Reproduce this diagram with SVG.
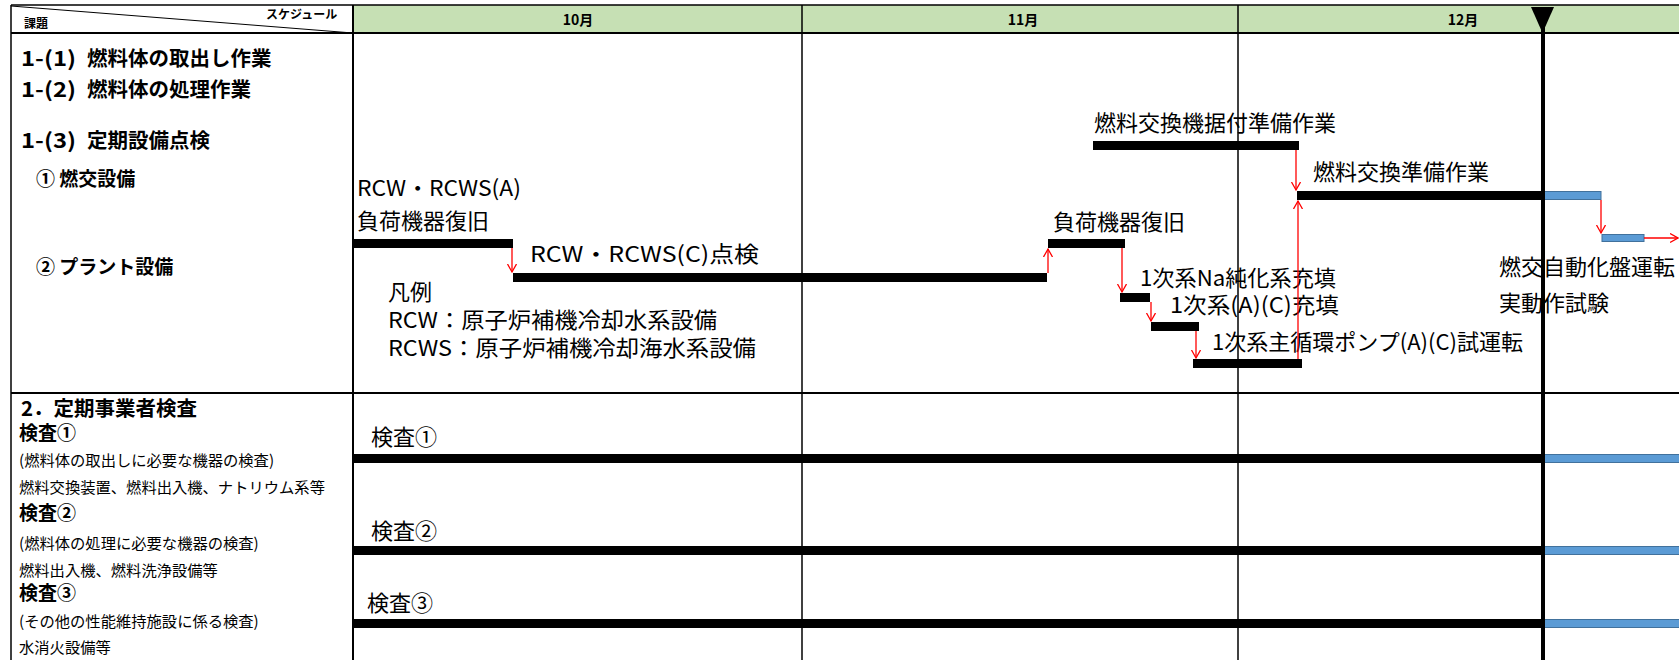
<svg xmlns="http://www.w3.org/2000/svg" width="1679" height="660" viewBox="0 0 1679 660">
<style>
text{font-family:"Noto Sans CJK JP","Noto Sans",sans-serif;fill:#000}
.hb{font-weight:bold;font-size:20.5px}
.sb{font-weight:bold;font-size:19px}
.sm{font-size:15.3px}
.tiny{font-weight:bold;font-size:12px}
.mon{font-weight:bold;font-size:14px}
.lb{font-size:22px}
.bar{fill:#000}
.blue{fill:#5B9BD5;stroke:#41719C;stroke-width:1}
.grid{stroke:#000;stroke-width:1.5;fill:none}
.arr{stroke:#FF0000;stroke-width:1.3;fill:none;marker-end:url(#ah)}
</style>
<defs>
<marker id="ah" markerUnits="userSpaceOnUse" markerWidth="12" markerHeight="12" refX="8" refY="5" orient="auto">
<path d="M0,0.5 L8,5 L0,9.5" fill="none" stroke="#FF0000" stroke-width="1.3"/>
</marker>
</defs>
<rect x="0" y="0" width="1679" height="660" fill="#fff"/>
<g id="frame">
<rect x="353" y="5" width="1326" height="28" fill="#C6E0B4"/>
<line class="grid" x1="11" y1="5" x2="1679" y2="5"/>
<line x1="11" y1="33" x2="1679" y2="33" stroke="#000" stroke-width="2.2"/>
<line class="grid" x1="11" y1="5" x2="11" y2="660"/>
<line x1="353" y1="5" x2="353" y2="660" stroke="#000" stroke-width="2"/>
<line class="grid" x1="802" y1="5" x2="802" y2="660"/>
<line class="grid" x1="1238" y1="5" x2="1238" y2="660"/>
<line x1="11" y1="393" x2="1679" y2="393" stroke="#000" stroke-width="2"/>
<line x1="11" y1="6" x2="353" y2="33" stroke="#000" stroke-width="1"/>
<text class="tiny" x="24" y="28">課題</text>
<text class="tiny" x="266" y="19">スケジュール</text>
<text class="mon" x="578" y="25" text-anchor="middle">10月</text>
<text class="mon" x="1023" y="25" text-anchor="middle">11月</text>
<text class="mon" x="1463" y="25" text-anchor="middle">12月</text>
</g>
<g id="left-labels">
<text class="hb" x="21" y="66"><tspan textLength="55" lengthAdjust="spacingAndGlyphs">1-(1)</tspan> <tspan x="87">燃料体の取出し作業</tspan></text>
<text class="hb" x="21" y="97"><tspan textLength="55" lengthAdjust="spacingAndGlyphs">1-(2)</tspan> <tspan x="87">燃料体の処理作業</tspan></text>
<text class="hb" x="21" y="148"><tspan textLength="55" lengthAdjust="spacingAndGlyphs">1-(3)</tspan> <tspan x="87">定期設備点検</tspan></text>
<text class="sb" x="36" y="186">① 燃交設備</text>
<text class="sb" x="36" y="274">② プラント設備</text>
<text class="hb" x="21" y="416" font-size="22">2．定期事業者検査</text>
<text class="sb" x="19" y="440">検査①</text>
<text class="sm" x="19" y="466">(燃料体の取出しに必要な機器の検査)</text>
<text class="sm" x="19" y="493">燃料交換装置、燃料出入機、ナトリウム系等</text>
<text class="sb" x="19" y="520">検査②</text>
<text class="sm" x="19" y="549">(燃料体の処理に必要な機器の検査)</text>
<text class="sm" x="19" y="576">燃料出入機、燃料洗浄設備等</text>
<text class="sb" x="19" y="600">検査③</text>
<text class="sm" x="19" y="627">(その他の性能維持施設に係る検査)</text>
<text class="sm" x="19" y="653">水消火設備等</text>
</g>
<g id="task-rcw-a">
<text class="lb" x="357" y="196" textLength="164" lengthAdjust="spacingAndGlyphs">RCW・RCWS(A)</text>
<text class="lb" x="357" y="229">負荷機器復旧</text>
<rect class="bar" x="353" y="239" width="160" height="9"/>
</g>
<g id="task-rcw-c">
<text class="lb" x="530" y="262" textLength="229" lengthAdjust="spacingAndGlyphs">RCW・RCWS(C)点検</text>
<rect class="bar" x="513" y="273" width="534" height="9"/>
</g>
<g id="legend">
<text class="lb" x="388" y="300">凡例</text>
<text class="lb" x="388" y="328" textLength="329" lengthAdjust="spacingAndGlyphs">RCW：原子炉補機冷却水系設備</text>
<text class="lb" x="388" y="356" textLength="368" lengthAdjust="spacingAndGlyphs">RCWS：原子炉補機冷却海水系設備</text>
</g>
<g id="task-load2">
<text class="lb" x="1053" y="230">負荷機器復旧</text>
<rect class="bar" x="1048" y="239" width="77" height="9"/>
</g>
<g id="task-na">
<text class="lb" x="1140" y="286" textLength="196" lengthAdjust="spacingAndGlyphs">1次系Na純化系充填</text>
<rect class="bar" x="1120" y="293" width="30" height="9"/>
</g>
<g id="task-ac">
<text class="lb" x="1170" y="313" textLength="169" lengthAdjust="spacingAndGlyphs">1次系(A)(C)充填</text>
<rect class="bar" x="1151" y="322" width="48" height="9"/>
</g>
<g id="task-pump">
<text class="lb" x="1212" y="350" textLength="311" lengthAdjust="spacingAndGlyphs">1次系主循環ポンプ(A)(C)試運転</text>
<rect class="bar" x="1193" y="359" width="109" height="9"/>
</g>
<g id="task-install">
<text class="lb" x="1094" y="131">燃料交換機据付準備作業</text>
<rect class="bar" x="1093" y="141" width="206" height="9"/>
</g>
<g id="task-prep">
<text class="lb" x="1313" y="180">燃料交換準備作業</text>
<rect class="bar" x="1297" y="191" width="246" height="9"/>
<rect class="blue" x="1543" y="191.5" width="58" height="8"/>
</g>
<g id="task-auto">
<rect class="blue" x="1602" y="234.5" width="42" height="7"/>
<text class="lb" x="1499" y="275">燃交自動化盤運転</text>
<text class="lb" x="1499" y="311">実動作試験</text>
</g>
<g id="insp1">
<text class="lb" x="371" y="445">検査①</text>
<rect class="bar" x="353" y="454" width="1190" height="9"/>
<rect class="blue" x="1543" y="454.5" width="140" height="8"/>
</g>
<g id="insp2">
<text class="lb" x="371" y="539">検査②</text>
<rect class="bar" x="353" y="546" width="1190" height="9"/>
<rect class="blue" x="1543" y="546.5" width="140" height="8"/>
</g>
<g id="insp3">
<text class="lb" x="367" y="611">検査③</text>
<rect class="bar" x="353" y="619" width="1190" height="9"/>
<rect class="blue" x="1543" y="619.5" width="140" height="8"/>
</g>
<g id="connectors">
<line class="arr" x1="512" y1="248" x2="512" y2="272"/>
<line class="arr" x1="1048" y1="273" x2="1048" y2="249"/>
<line class="arr" x1="1122" y1="248" x2="1122" y2="292"/>
<line class="arr" x1="1151" y1="302" x2="1151" y2="321"/>
<line class="arr" x1="1196" y1="331" x2="1196" y2="358"/>
<line class="arr" x1="1298" y1="359" x2="1298" y2="201"/>
<line class="arr" x1="1296" y1="150" x2="1296" y2="190"/>
<line class="arr" x1="1601" y1="200" x2="1601" y2="233"/>
<line class="arr" x1="1644" y1="238" x2="1678" y2="238"/>
</g>
<g id="today">
<line x1="1543" y1="20" x2="1543" y2="660" stroke="#000" stroke-width="4"/>
<polygon points="1531,7 1554,7 1542.5,33" fill="#000"/>
</g>
</svg>
